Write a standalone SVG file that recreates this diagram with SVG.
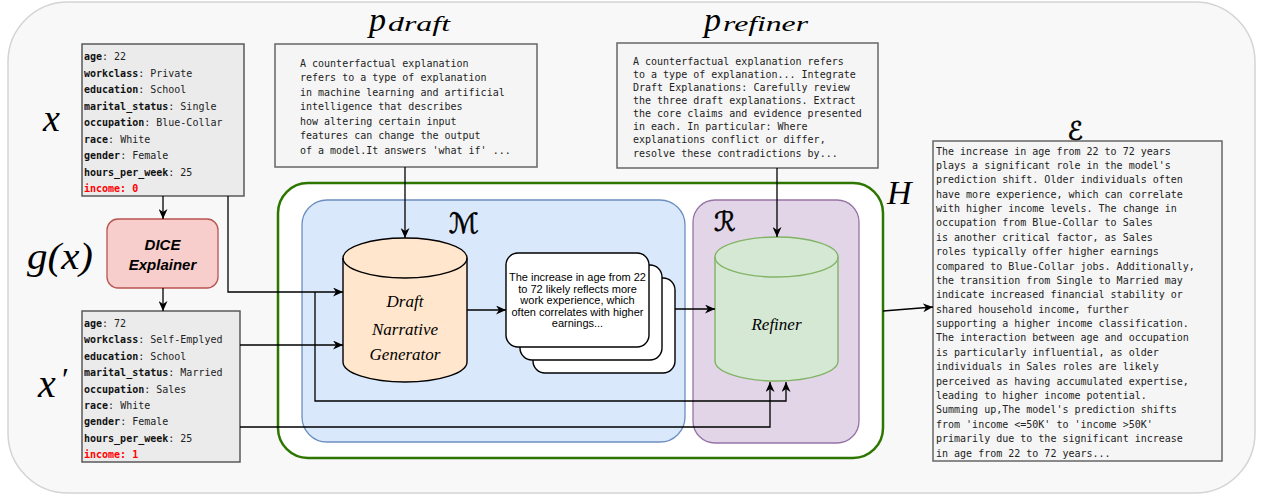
<svg xmlns="http://www.w3.org/2000/svg" width="1262" height="498" viewBox="0 0 1262 498">
<defs>
<marker id="arr" markerUnits="userSpaceOnUse" markerWidth="11" markerHeight="9" refX="10" refY="4.5" orient="auto">
<path d="M0,0 L10,4.5 L0,9 L3,4.5 Z" fill="#000"/>
</marker>
<style>
.mono{font-family:"DejaVu Sans Mono","Liberation Mono",monospace;font-size:10px;fill:#222;}
.k{font-weight:bold;fill:#111;}
.red{fill:#ff0000;font-weight:bold;}
.math{font-family:"Liberation Serif","DejaVu Serif",serif;font-style:italic;fill:#000;}
.cal{font-family:"DejaVu Serif","DejaVu Sans",serif;fill:#000;stroke:#000;stroke-width:0.6;}
.prompt{fill:#f5f5f5;stroke:#666;stroke-width:1.5;}
.feat{fill:#ebebeb;stroke:#595959;stroke-width:1.5;}
.conn{fill:none;stroke:#000;stroke-width:1.3;}
.sans{font-family:"Liberation Sans",Arial,sans-serif;}
</style>
</defs>

<g id="background">
<rect x="8" y="2" width="1247" height="491" rx="60" fill="#f8f8f8" stroke="#d4d4d4" stroke-width="1.5"/>
</g>

<g id="H">
<rect x="278" y="183" width="605" height="275" rx="30" fill="#ffffff" stroke="#2d7600" stroke-width="2.5"/>
<text class="math" x="887" y="204" font-size="34">H</text>
</g>

<g id="M">
<rect x="302" y="200" width="383" height="242" rx="25" fill="#dae8fc" stroke="#6c8ebf" stroke-width="1.3"/>
<text class="cal" x="449" y="233" font-size="28">ℳ</text>
</g>

<g id="R">
<rect x="693" y="200" width="166" height="243" rx="22" fill="#e1d5e7" stroke="#9673a6" stroke-width="1.3"/>
<text class="cal" x="714" y="231" font-size="27">ℛ</text>
</g>

<g id="x-input">
<text class="math" x="43" y="131" font-size="38">x</text>
<rect class="feat" x="82" y="44" width="162" height="152"/>
<text class="mono" x="84" y="60"><tspan class="k">age</tspan>: 22</text>
<text class="mono" x="84" y="76.5"><tspan class="k">workclass</tspan>: Private</text>
<text class="mono" x="84" y="93"><tspan class="k">education</tspan>: School</text>
<text class="mono" x="84" y="109.5"><tspan class="k">marital_status</tspan>: Single</text>
<text class="mono" x="84" y="126"><tspan class="k">occupation</tspan>: Blue-Collar</text>
<text class="mono" x="84" y="142.5"><tspan class="k">race</tspan>: White</text>
<text class="mono" x="84" y="159"><tspan class="k">gender</tspan>: Female</text>
<text class="mono" x="84" y="175.5"><tspan class="k">hours_per_week</tspan>: 25</text>
<text class="mono red" x="84" y="192">income: 0</text>
</g>

<g id="dice">
<text class="math" x="27" y="269" font-size="38" textLength="66" lengthAdjust="spacingAndGlyphs">g(x)</text>
<rect x="107" y="219" width="111" height="69" rx="11" fill="#f8cecc" stroke="#b85450" stroke-width="1.3"/>
<text class="sans" x="162.5" y="250" font-size="15" font-weight="bold" font-style="italic" text-anchor="middle">DICE</text>
<text class="sans" x="162.5" y="270" font-size="15" font-weight="bold" font-style="italic" text-anchor="middle">Explainer</text>
</g>

<g id="x-prime">
<text class="math" x="38" y="397" font-size="40">x</text>
<text class="math" x="60" y="390" font-size="32">′</text>
<rect class="feat" x="82" y="311" width="158" height="151"/>
<text class="mono" x="84" y="327"><tspan class="k">age</tspan>: 72</text>
<text class="mono" x="84" y="343.4"><tspan class="k">workclass</tspan>: Self-Emplyed</text>
<text class="mono" x="84" y="359.8"><tspan class="k">education</tspan>: School</text>
<text class="mono" x="84" y="376.2"><tspan class="k">marital_status</tspan>: Married</text>
<text class="mono" x="84" y="392.6"><tspan class="k">occupation</tspan>: Sales</text>
<text class="mono" x="84" y="409"><tspan class="k">race</tspan>: White</text>
<text class="mono" x="84" y="425.4"><tspan class="k">gender</tspan>: Female</text>
<text class="mono" x="84" y="441.8"><tspan class="k">hours_per_week</tspan>: 25</text>
<text class="mono red" x="84" y="458.2">income: 1</text>
</g>

<g id="p-draft">
<text class="math" x="369" y="31" font-size="34">p</text>
<text class="math" x="388" y="31" font-size="22" textLength="62" lengthAdjust="spacingAndGlyphs">draft</text>
<rect class="prompt" x="275" y="44" width="262" height="123"/>
<text class="mono" x="300" y="66.5">A counterfactual explanation</text>
<text class="mono" x="300" y="81">refers to a type of explanation</text>
<text class="mono" x="300" y="95.5">in machine learning and artificial</text>
<text class="mono" x="300" y="110">intelligence that describes</text>
<text class="mono" x="300" y="124.5">how altering certain input</text>
<text class="mono" x="300" y="139">features can change the output</text>
<text class="mono" x="300" y="153.5">of a model.It answers 'what if' ...</text>
</g>

<g id="p-refiner">
<text class="math" x="704" y="31" font-size="34">p</text>
<text class="math" x="723" y="31" font-size="22" textLength="85" lengthAdjust="spacingAndGlyphs">refiner</text>
<rect class="prompt" x="617" y="43" width="261" height="125"/>
<text class="mono" x="633" y="64.5">A counterfactual explanation refers</text>
<text class="mono" x="633" y="77.6">to a type of explanation... Integrate</text>
<text class="mono" x="633" y="90.8">Draft Explanations: Carefully review</text>
<text class="mono" x="633" y="103.9">the three draft explanations. Extract</text>
<text class="mono" x="633" y="117.1">the core claims and evidence presented</text>
<text class="mono" x="633" y="130.2">in each. In particular: Where</text>
<text class="mono" x="633" y="143.4">explanations conflict or differ,</text>
<text class="mono" x="633" y="156.5">resolve these contradictions by...</text>
</g>

<g id="draft-generator">
<path d="M343,258 A62,20 0 0,1 467,258 V362 A62,20 0 0,1 343,362 Z" fill="#ffe6cc" stroke="#000" stroke-width="1.4"/>
<path d="M343,258 A62,20 0 0,0 467,258" fill="none" stroke="#000" stroke-width="1.4"/>
<text class="math" x="405" y="307" font-size="17" text-anchor="middle">Draft</text>
<text class="math" x="405" y="335" font-size="17" text-anchor="middle">Narrative</text>
<text class="math" x="405" y="360" font-size="17" text-anchor="middle">Generator</text>
</g>

<g id="drafts">
<rect x="533" y="278" width="142" height="95" rx="12" fill="#fff" stroke="#000" stroke-width="1.4"/>
<rect x="520" y="265" width="142" height="95" rx="12" fill="#fff" stroke="#000" stroke-width="1.4"/>
<rect x="506" y="253" width="143" height="94" rx="12" fill="#fff" stroke="#000" stroke-width="1.4"/>
<g class="sans" font-size="11" text-anchor="middle" fill="#000">
<text x="577.5" y="281">The increase in age from 22</text>
<text x="577.5" y="292.5">to 72 likely reflects more</text>
<text x="577.5" y="304">work experience, which</text>
<text x="577.5" y="315.5">often correlates with higher</text>
<text x="577.5" y="327">earnings...</text>
</g>
</g>

<g id="refiner">
<path d="M715,257 A61.5,20 0 0,1 838,257 V361 A61.5,20 0 0,1 715,361 Z" fill="#d5e8d4" stroke="#82b366" stroke-width="1.4"/>
<path d="M715,257 A61.5,20 0 0,0 838,257" fill="none" stroke="#82b366" stroke-width="1.4"/>
<text class="math" x="776.5" y="330" font-size="17" text-anchor="middle">Refiner</text>
</g>

<g id="explanation">
<text class="cal" x="1075" y="140" font-size="26" text-anchor="middle">ℰ</text>
<rect class="prompt" x="933" y="141" width="289" height="320"/>
<g class="mono">
<text x="936" y="154.5">The increase in age from 22 to 72 years</text>
<text x="936" y="168.9">plays a significant role in the model's</text>
<text x="936" y="183.3">prediction shift. Older individuals often</text>
<text x="936" y="197.6">have more experience, which can correlate</text>
<text x="936" y="212">with higher income levels. The change in</text>
<text x="936" y="226.4">occupation from Blue-Collar to Sales</text>
<text x="936" y="240.8">is another critical factor, as Sales</text>
<text x="936" y="255.2">roles typically offer higher earnings</text>
<text x="936" y="269.5">compared to Blue-Collar jobs. Additionally,</text>
<text x="936" y="283.9">the transition from Single to Married may</text>
<text x="936" y="298.3">indicate increased financial stability or</text>
<text x="936" y="312.7">shared household income, further</text>
<text x="936" y="327">supporting a higher income classification.</text>
<text x="936" y="341.4">The interaction between age and occupation</text>
<text x="936" y="355.8">is particularly influential, as older</text>
<text x="936" y="370.2">individuals in Sales roles are likely</text>
<text x="936" y="384.6">perceived as having accumulated expertise,</text>
<text x="936" y="398.9">leading to higher income potential.</text>
<text x="936" y="413.3">Summing up,The model's prediction shifts</text>
<text x="936" y="427.7">from 'income &lt;=50K' to 'income &gt;50K'</text>
<text x="936" y="442.1">primarily due to the significant increase</text>
<text x="936" y="456.5">in age from 22 to 72 years...</text>
</g>
</g>

<g id="connectors">
<path class="conn" d="M163,196 V219" marker-end="url(#arr)"/>
<path class="conn" d="M163,288 V311" marker-end="url(#arr)"/>
<path class="conn" d="M228,196 V292 H343" marker-end="url(#arr)"/>
<path class="conn" d="M315,292 V401 H786 V382" marker-end="url(#arr)"/>
<path class="conn" d="M240,345 H343" marker-end="url(#arr)"/>
<path class="conn" d="M240,427 H770 V382" marker-end="url(#arr)"/>
<path class="conn" d="M405,167 V238" marker-end="url(#arr)"/>
<path class="conn" d="M777,168 V237" marker-end="url(#arr)"/>
<path class="conn" d="M467,310 H506" marker-end="url(#arr)"/>
<path class="conn" d="M675,309 H715" marker-end="url(#arr)"/>
<path class="conn" d="M883,311 L933,307" marker-end="url(#arr)"/>
</g>
</svg>
